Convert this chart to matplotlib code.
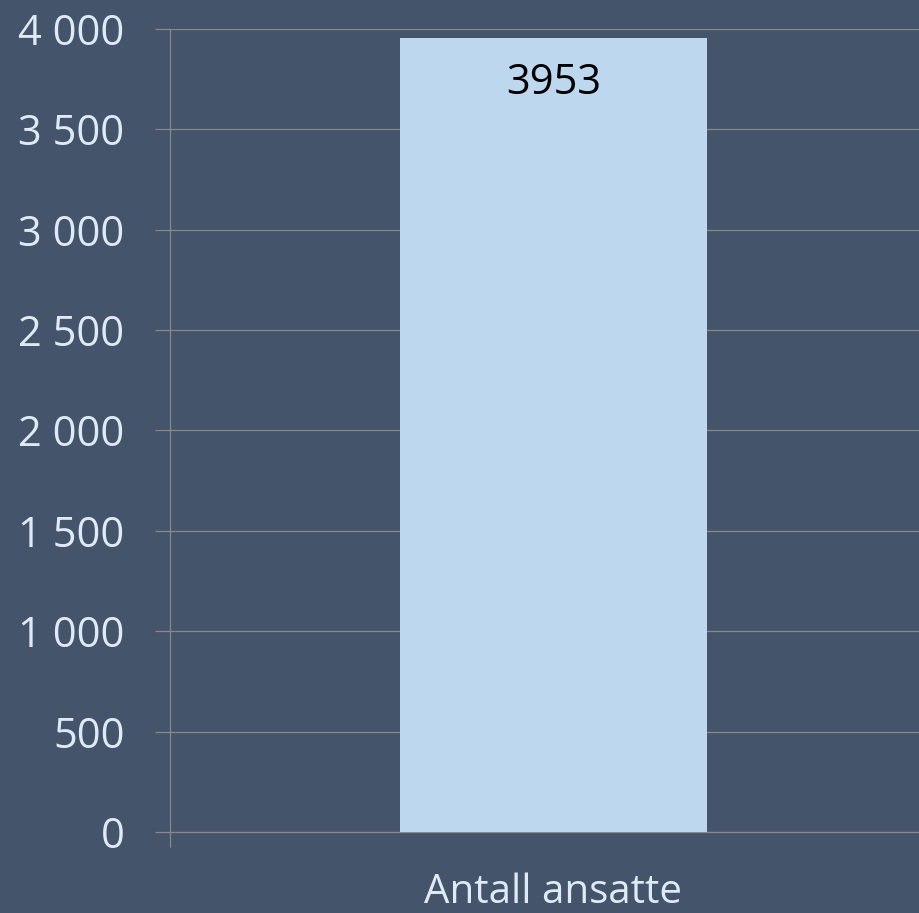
import matplotlib.pyplot as plt
from matplotlib.ticker import FuncFormatter

# data
categories = ['Antall ansatte']
values = [3953]
y_ticks = [0, 500, 1000, 1500, 2000, 2500, 3000, 3500, 4000]

bg = '#44546A'
bar_color = '#BDD7EE'
grid_color = '#898989'
text_color = '#DEEBF7'

plt.rcParams['font.family'] = ['Open Sans', 'DejaVu Sans']

fig = plt.figure(figsize=(9.2, 9.13), dpi=100, facecolor=bg)
# axes extends past the right edge like the original crop
ax = fig.add_axes([170 / 920, (913 - 832.3) / 913, (937 - 170) / 920, (832.3 - 28.7) / 913])
ax.set_facecolor(bg)

x = list(range(len(categories)))
bars = ax.bar(x, values, width=0.4, color=bar_color, zorder=3)

for b, v in zip(bars, values):
    ax.annotate(f'{v}', xy=(b.get_x() + b.get_width() / 2, v),
                xytext=(0, -32), textcoords='offset points',
                ha='center', va='center', fontsize=30, color='black', zorder=4)

ax.set_xlim(-0.5, len(categories) - 0.5)
ax.set_ylim(0, 4000)
ax.set_yticks(y_ticks)
ax.yaxis.set_major_formatter(FuncFormatter(lambda v, p: f'{v:,.0f}'.replace(',', ' ')))
ax.grid(axis='y', color=grid_color, linewidth=0.9, zorder=0)

ax.set_xticks(x)
ax.set_xticklabels(categories)
ax.set_xticks([i - 0.5 for i in range(len(categories) + 1)], minor=True)

ax.tick_params(axis='y', which='major', length=10.8, width=0.9, color=grid_color,
               labelsize=30, labelcolor=text_color, pad=22)
ax.tick_params(axis='x', which='major', length=0, labelsize=29,
               labelcolor=text_color, pad=29)
ax.tick_params(axis='x', which='minor', length=10.8, width=0.9, color=grid_color)

for s in ['top', 'right']:
    ax.spines[s].set_visible(False)
for s in ['left', 'bottom']:
    ax.spines[s].set_color(grid_color)
    ax.spines[s].set_linewidth(0.9)

fig.savefig('out.png', dpi=100, facecolor=bg)
